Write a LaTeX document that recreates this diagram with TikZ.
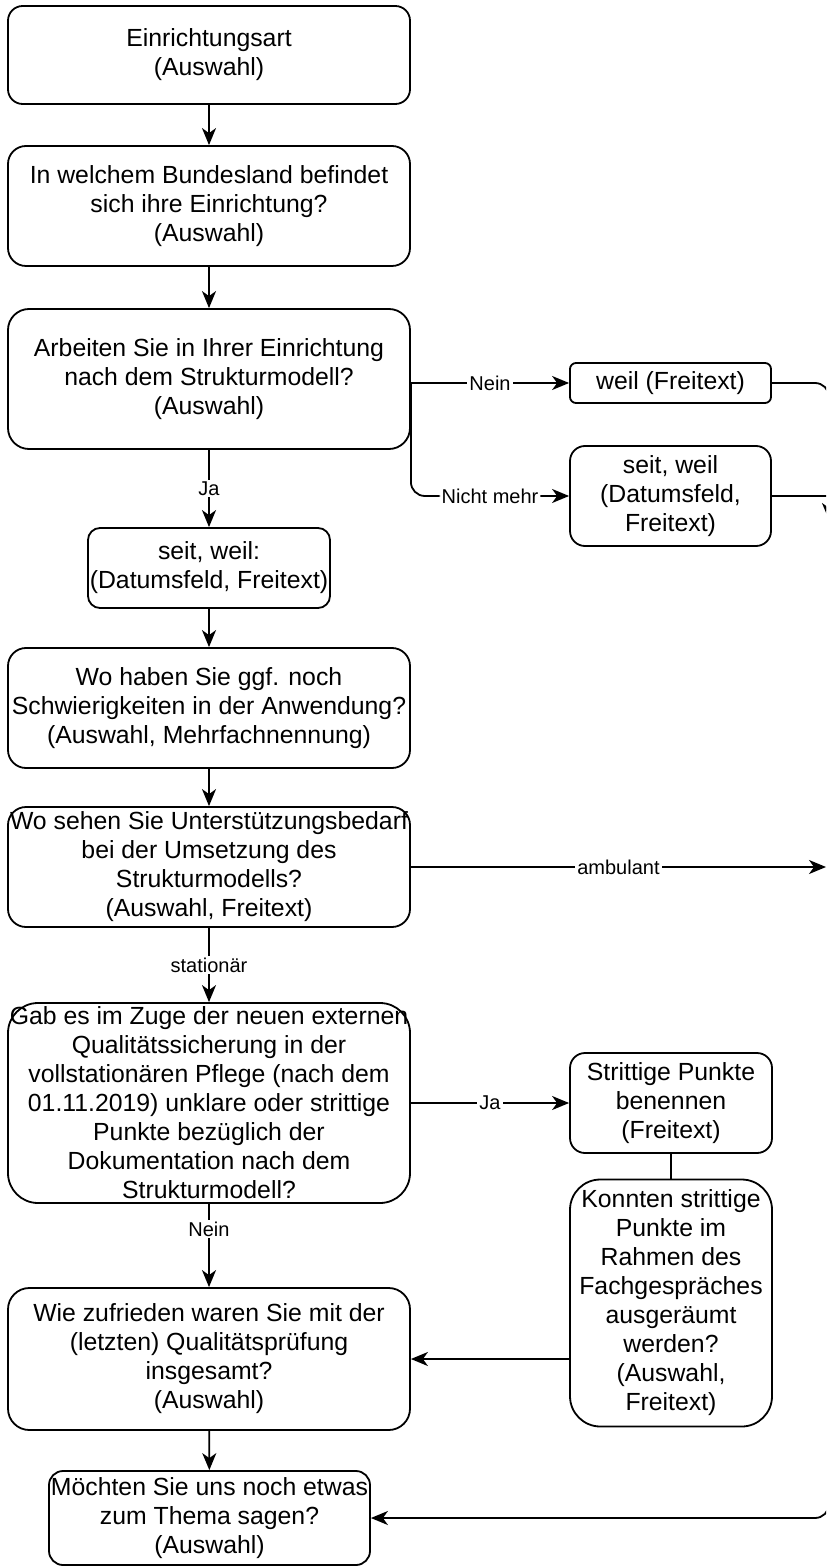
\documentclass[tikz,border=0pt]{standalone}
\usepackage{fontspec}
\setmainfont{Liberation Sans}
\usetikzlibrary{arrows.meta}

\begin{document}
\begin{tikzpicture}
[x=0.5pt,y=-0.5pt,
  lineDecorate/.style={-,line width=0.9pt},%
  arrowDecorate/.style={-{Stealth[length=8.5pt,width=7pt,inset=2.5pt]},line width=0.9pt},%
  nodeDecorate/.style={shape=rectangle,draw,line width=0.9pt,align=center,inner sep=0pt,
    font=\fontsize{12.4}{14.5}\selectfont},%
  labelDecorate/.style={fill=white,inner sep=1pt,font=\fontsize{10}{12}\selectfont}]
\useasboundingbox (0,0) rectangle (826,1566);
\clip (0,0) rectangle (826,1566);
%% nodes or vertices
\foreach \nodename/\x/\y/\w/\h/\txt in {
  art/209/55/402/98/{Einrichtungsart\\(Auswahl)},
  land/209/206/402/120/{In welchem Bundesland befindet\\sich ihre Einrichtung?\\(Auswahl)},
  modell/209/379/402/140/{Arbeiten Sie in Ihrer Einrichtung\\nach dem Strukturmodell?\\(Auswahl)},
  seitja/209/568/242/80/{seit, weil:\\(Datumsfeld, Freitext)},
  schwierig/209/708/402/120/{Wo haben Sie ggf. noch\\Schwierigkeiten in der Anwendung?\\(Auswahl, Mehrfachnennung)},
  bedarf/209/867/402/120/{Wo sehen Sie Unterstützungsbedarf\\bei der Umsetzung des\\Strukturmodells?\\(Auswahl, Freitext)},
  qs/209/1103/402/200/{Gab es im Zuge der neuen externen\\Qualitätssicherung in der\\vollstationären Pflege (nach dem\\01.11.2019) unklare oder strittige\\Punkte bezüglich der\\Dokumentation nach dem\\Strukturmodell?},
  zufrieden/209/1359/402/142/{Wie zufrieden waren Sie mit der\\(letzten) Qualitätsprüfung\\insgesamt?\\(Auswahl)},
  sagen/209.5/1518/321/94/{Möchten Sie uns noch etwas\\zum Thema sagen?\\(Auswahl)},
  weil/670.5/383/201/40/{weil (Freitext)},
  seitnein/670.5/496/201/100/{seit, weil\\(Datumsfeld,\\Freitext)},
  strittig/671/1103/202/100/{Strittige Punkte\\benennen\\(Freitext)},
  konnten/671/1303/202/247/{Konnten strittige\\Punkte im\\Rahmen des\\Fachgespräches\\ausgeräumt\\werden?\\(Auswahl,\\Freitext)}}
{
  \pgfmathsetmacro{\rad}{0.075*min(\w,\h)}
  \node (\nodename) at (\x,\y) [nodeDecorate,minimum width=\w*0.5pt,
    minimum height=\h*0.5pt,rounded corners=\rad pt] {\txt};
}
%% loose ends at the right border
\coordinate (ambulantEnd) at (826,867);
\coordinate (rightTop) at (829,520);
\coordinate (rightMid) at (832,496);
\coordinate (rightLow) at (829,1470);
\coordinate (modellOut) at (modell.east |- weil.west);
\coordinate (konntenOut) at (konnten.west |- zufrieden.east);
%% edges or lines
\path
\foreach \startnode/\endnode in {art/land, land/modell, seitja/schwierig,
  schwierig/bedarf, zufrieden/sagen, konntenOut/zufrieden}
{
  (\startnode) edge[arrowDecorate] (\endnode)
}
\foreach \startnode/\endnode/\pos/\lbl in {modell/seitja/0.5/Ja, bedarf/qs/0.5/stationär,
  qs/zufrieden/0.3/Nein, modellOut/weil/0.5/Nein, bedarf/ambulantEnd/0.5/ambulant,
  qs/strittig/0.5/Ja}
{
  (\startnode) edge[arrowDecorate] node[labelDecorate,pos=\pos] {\lbl} (\endnode)
}
\foreach \startnode/\endnode in {strittig/konnten, seitnein/rightMid}
{
  (\startnode) edge[lineDecorate] (\endnode)
};
\draw[arrowDecorate,rounded corners=7pt] (weil.east) -| (rightTop);
\draw[arrowDecorate,rounded corners=7pt] (modellOut) |- node[labelDecorate,pos=0.75] {Nicht mehr} (seitnein.west);
\draw[arrowDecorate,rounded corners=7pt] (rightLow) |- (sagen.east);
\end{tikzpicture}
\end{document}
